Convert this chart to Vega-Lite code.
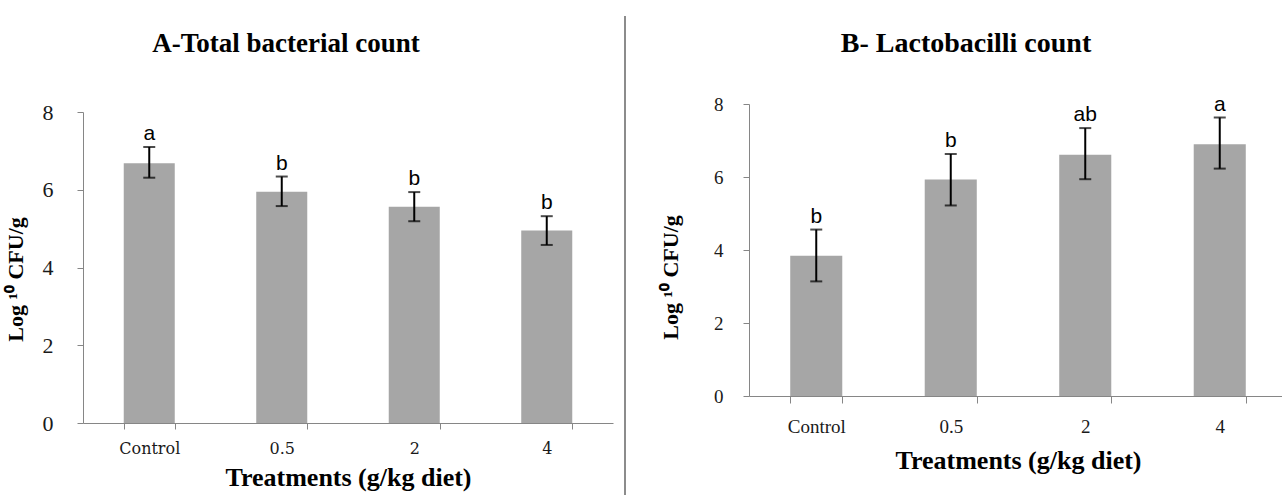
{
  "$schema": "https://vega.github.io/schema/vega-lite/v6.json",
  "datasets": {
    "A": [
      {"treatment": "Control", "mean": 6.68, "lo": 6.31, "hi": 7.10, "letter": "a"},
      {"treatment": "0.5", "mean": 5.95, "lo": 5.58, "hi": 6.34, "letter": "b"},
      {"treatment": "2", "mean": 5.56, "lo": 5.19, "hi": 5.94, "letter": "b"},
      {"treatment": "4", "mean": 4.95, "lo": 4.58, "hi": 5.32, "letter": "b"}
    ],
    "B": [
      {"treatment": "Control", "mean": 3.84, "lo": 3.14, "hi": 4.56, "letter": "b"},
      {"treatment": "0.5", "mean": 5.93, "lo": 5.22, "hi": 6.63, "letter": "b"},
      {"treatment": "2", "mean": 6.61, "lo": 5.94, "hi": 7.34, "letter": "ab"},
      {"treatment": "4", "mean": 6.90, "lo": 6.23, "hi": 7.63, "letter": "a"}
    ]
  },
  "padding": {"left": 4, "top": 15, "right": 0, "bottom": 0},
  "spacing": 11,
  "background": "white",
  "config": {
    "view": {"stroke": null},
    "axis": {"grid": false, "domainColor": "#868686", "tickColor": "#868686", "labelColor": "#1a1a1a", "titleColor": "black", "titleFont": "Liberation Serif", "titleFontWeight": "bold", "labelFont": "Liberation Serif"}
  },
  "hconcat": [
    {
      "data": {"name": "A"},
      "width": 530,
      "height": 319,
      "title": {"text": "A-Total bacterial count", "font": "Liberation Serif", "fontSize": 27, "fontWeight": "bold", "color": "black", "dx": -62, "offset": 43},
      "encoding": {
        "x": {
          "field": "treatment", "type": "nominal", "sort": null,
          "scale": {"paddingInner": 0.615, "paddingOuter": 0.3075},
          "axis": {"title": "Treatments (g/kg diet)", "titleFontSize": 26, "titlePadding": 8, "labelFont": "DejaVu Serif", "labelFontSize": 16, "labelAngle": 0, "labelPadding": 11, "tickSize": 6, "tickBand": "extent"}
        }
      },
      "layer": [
        {
          "mark": {"type": "bar", "color": "#a6a6a6"},
          "encoding": {
            "y": {"field": "mean", "type": "quantitative", "title": "Log ¹⁰ CFU/g",
              "scale": {"domain": [0, 8], "range": [319, 8]},
              "axis": {"values": [0, 2, 4, 6, 8], "labelFontSize": 22, "labelPadding": 24, "tickSize": 6, "titleFontSize": 22, "titlePadding": 15, "titleY": 175}}
          }
        },
        {
          "mark": {"type": "errorbar", "ticks": {"size": 12, "thickness": 2, "color": "black"}, "rule": {"strokeWidth": 2, "color": "black"}},
          "encoding": {
            "y": {"field": "lo", "type": "quantitative", "title": "Log ¹⁰ CFU/g"},
            "y2": {"field": "hi"}
          }
        },
        {
          "mark": {"type": "text", "baseline": "bottom", "dy": -3, "font": "Liberation Sans", "fontSize": 21, "color": "black"},
          "encoding": {
            "y": {"field": "hi", "type": "quantitative", "title": "Log ¹⁰ CFU/g"},
            "text": {"field": "letter"}
          }
        }
      ]
    },
    {
      "data": {"values": [{}]},
      "width": 23,
      "height": 391,
      "mark": {"type": "rule", "color": "#8c8c8c", "strokeWidth": 2},
      "encoding": {
        "x": {"datum": 0, "type": "quantitative", "scale": {"domain": [0, 1]}, "axis": null},
        "y": {"datum": 0, "type": "quantitative", "scale": {"domain": [0, 0.8163]}, "axis": null},
        "y2": {"datum": 1}
      }
    },
    {
      "data": {"name": "B"},
      "width": 538,
      "height": 292,
      "title": {"text": "B- Lactobacilli count", "font": "Liberation Serif", "fontSize": 28, "fontWeight": "bold", "color": "black", "dx": -52, "offset": 36},
      "encoding": {
        "x": {
          "field": "treatment", "type": "nominal", "sort": null,
          "scale": {"paddingInner": 0.613, "paddingOuter": 0.3065},
          "axis": {"title": "Treatments (g/kg diet)", "titleFontSize": 26, "titlePadding": 11, "labelFontSize": 19, "labelAngle": 0, "labelPadding": 14, "tickSize": 7, "tickBand": "extent"}
        }
      },
      "layer": [
        {
          "mark": {"type": "bar", "color": "#a6a6a6"},
          "encoding": {
            "y": {"field": "mean", "type": "quantitative", "title": "Log ¹⁰ CFU/g",
              "scale": {"domain": [0, 8]},
              "axis": {"values": [0, 2, 4, 6, 8], "labelFontSize": 19, "labelPadding": 20, "tickSize": 6, "titleFontSize": 22, "titlePadding": 31, "titleY": 173}}
          }
        },
        {
          "mark": {"type": "errorbar", "ticks": {"size": 12, "thickness": 2, "color": "black"}, "rule": {"strokeWidth": 2, "color": "black"}},
          "encoding": {
            "y": {"field": "lo", "type": "quantitative", "title": "Log ¹⁰ CFU/g"},
            "y2": {"field": "hi"}
          }
        },
        {
          "mark": {"type": "text", "baseline": "bottom", "dy": -3, "font": "Liberation Sans", "fontSize": 21, "color": "black"},
          "encoding": {
            "y": {"field": "hi", "type": "quantitative", "title": "Log ¹⁰ CFU/g"},
            "text": {"field": "letter"}
          }
        }
      ]
    }
  ]
}
